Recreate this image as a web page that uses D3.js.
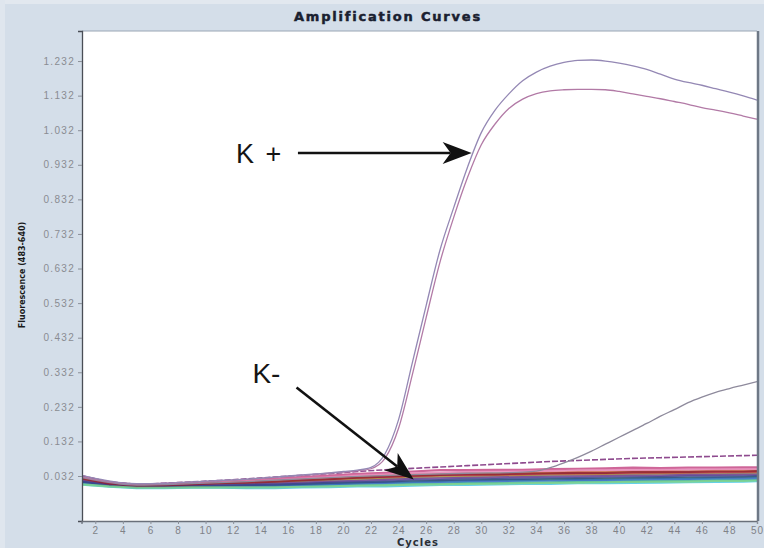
<!DOCTYPE html>
<html><head><meta charset="utf-8">
<script src="https://cdn.jsdelivr.net/npm/d3@7"></script>
<style>html,body{margin:0;padding:0;background:#d4dee9;} svg{display:block}</style>
</head><body><svg id="c" width="764" height="548"></svg>
<script>
const title = "Amplification Curves";
const xLabel = "Cycles";
const yLabel = "Fluorescence (483-640)";
const yTicks = [0.032,0.132,0.232,0.332,0.432,0.532,0.632,0.732,0.832,0.932,1.032,1.132,1.232];
const yTickLabels = ["0.032","0.132","0.232","0.332","0.432","0.532","0.632","0.732","0.832","0.932","1.032","1.132","1.232"];
const xTicks = [2,4,6,8,10,12,14,16,18,20,22,24,26,28,30,32,34,36,38,40,42,44,46,48,50];

const cyclesFull = [1,2,3,4,5,6,7,8,9,10,11,12,13,14,15,16,17,18,19,20,21,22,23,24,25,26,27,28,29,30,31,32,33,34,35,36,37,38,39,40,41,42,43,44,45,46,47,48,49,50];
const kPosA = [0.034,0.025,0.018,0.012,0.010,0.010,0.011,0.013,0.015,0.017,0.019,0.021,0.023,0.026,0.029,0.032,0.035,0.038,0.041,0.045,0.049,0.057,0.095,0.195,0.360,0.525,0.685,0.808,0.925,1.025,1.090,1.137,1.175,1.200,1.217,1.228,1.234,1.235,1.232,1.226,1.218,1.208,1.194,1.180,1.170,1.162,1.152,1.142,1.131,1.119];
const kPosB = [0.030,0.022,0.016,0.011,0.009,0.009,0.010,0.012,0.014,0.016,0.018,0.020,0.022,0.025,0.028,0.031,0.034,0.037,0.040,0.043,0.047,0.053,0.082,0.170,0.325,0.490,0.650,0.780,0.895,0.990,1.050,1.095,1.122,1.138,1.146,1.149,1.150,1.150,1.149,1.144,1.137,1.130,1.123,1.115,1.107,1.097,1.090,1.082,1.073,1.064];

const lateCycles = [1,5,9,13,17,21,25,29,33,34,35,36,37,38,39,40,41,42,43,44,45,46,47,48,49,50];
const lateValues = [0.028,0.006,0.010,0.016,0.024,0.031,0.036,0.040,0.043,0.046,0.056,0.070,0.086,0.104,0.124,0.144,0.164,0.184,0.205,0.224,0.244,0.260,0.274,0.285,0.295,0.305];

const baseCycles = [1,3,5,7,9,11,13,15,17,19,21,23,25,27,29,31,33,35,37,39,41,43,45,47,49,50];
const negA = [0.032,0.014,0.007,0.009,0.012,0.016,0.020,0.024,0.029,0.033,0.038,0.041,0.045,0.049,0.049,0.050,0.050,0.052,0.053,0.054,0.056,0.055,0.056,0.056,0.057,0.057];
const negB = [0.023,0.010,0.004,0.005,0.007,0.010,0.012,0.015,0.018,0.022,0.026,0.027,0.031,0.033,0.034,0.036,0.035,0.038,0.039,0.038,0.040,0.041,0.041,0.042,0.043,0.043];
const negC = [0.026,0.011,0.005,0.006,0.009,0.012,0.014,0.018,0.022,0.025,0.029,0.033,0.036,0.037,0.040,0.039,0.041,0.042,0.044,0.043,0.045,0.046,0.045,0.047,0.047,0.048];
const negD = [0.020,0.008,0.002,0.004,0.005,0.008,0.009,0.012,0.015,0.017,0.021,0.023,0.026,0.028,0.029,0.030,0.031,0.033,0.033,0.034,0.035,0.036,0.036,0.037,0.038,0.038];
const negE = [0.014,0.005,0.000,0.001,0.002,0.003,0.004,0.005,0.008,0.010,0.012,0.014,0.016,0.018,0.019,0.021,0.020,0.022,0.023,0.024,0.025,0.026,0.026,0.027,0.028,0.029];
const negF = [0.010,0.003,-0.001,-0.001,0.000,0.000,0.000,0.001,0.002,0.004,0.006,0.007,0.009,0.010,0.012,0.012,0.014,0.014,0.016,0.016,0.017,0.018,0.019,0.020,0.020,0.021];
const negG = [0.012,0.004,-0.001,0.000,0.001,0.002,0.003,0.004,0.006,0.008,0.010,0.012,0.014,0.015,0.017,0.017,0.019,0.019,0.021,0.021,0.022,0.023,0.024,0.025,0.025,0.026];
const negH = [0.007,0.001,-0.003,-0.003,-0.002,-0.002,-0.003,-0.003,-0.001,0.000,0.002,0.002,0.004,0.006,0.006,0.008,0.009,0.009,0.011,0.011,0.012,0.013,0.014,0.015,0.016,0.017];
const negI = [0.019,0.007,0.002,0.003,0.005,0.006,0.008,0.010,0.013,0.016,0.018,0.021,0.024,0.025,0.027,0.028,0.029,0.030,0.031,0.032,0.033,0.033,0.035,0.035,0.036,0.036];
const negJ = [0.029,0.013,0.006,0.008,0.011,0.014,0.017,0.021,0.025,0.029,0.034,0.037,0.040,0.042,0.044,0.045,0.046,0.047,0.048,0.049,0.050,0.050,0.051,0.051,0.052,0.052];
const negK = [0.016,0.006,0.001,0.002,0.003,0.004,0.006,0.007,0.009,0.012,0.014,0.016,0.019,0.020,0.022,0.023,0.024,0.025,0.026,0.027,0.028,0.029,0.030,0.030,0.031,0.032];
const negL = [0.025,0.010,0.004,0.005,0.008,0.011,0.013,0.016,0.020,0.023,0.027,0.030,0.033,0.035,0.037,0.037,0.039,0.040,0.041,0.041,0.043,0.043,0.044,0.045,0.045,0.046];
const negM = [0.008,0.002,-0.002,-0.002,-0.001,-0.001,-0.001,-0.001,0.001,0.002,0.004,0.005,0.007,0.008,0.009,0.010,0.011,0.012,0.013,0.014,0.015,0.016,0.016,0.018,0.018,0.019];
const negTop = [0.033,0.015,0.008,0.011,0.015,0.019,0.024,0.029,0.034,0.039,0.045,0.050,0.054,0.058,0.062,0.066,0.070,0.074,0.077,0.080,0.083,0.085,0.087,0.089,0.091,0.092];
const negSeries = [negE, negA, negB, negC, negD, negF, negG, negH, negI, negJ, negK, negL, negM];
const negColors = ["#3cb43c","#c2407e","#c83232","#e28a2e","#9c9a3c","#1ea0a0","#3264c4","#3cc4e4","#7040a4","#e27eb0","#34428a","#8a1c34","#86d486"];

// annotations in data units
const annPlus = {label:"K +", tx:12.2, ty:0.937, x0:16.7, y0:0.966, x1:29.3, y1:0.966};
const annMinus = {label:"K-", tx:13.4, ty:0.301, x0:16.6, y0:0.288, x1:25.1, y1:0.022};

const svg = d3.select("#c");
const W = 764, H = 548;
const m = {l:82, r:757, t:31, b:521};

svg.append("rect").attr("width",W).attr("height",H).attr("fill","#d4dee9");
svg.append("rect").attr("x",0).attr("y",0).attr("width",W).attr("height",4).attr("fill","#e2e8ef");
svg.append("rect").attr("x",0).attr("y",0).attr("width",5).attr("height",H).attr("fill","#dfe6ee");

const x = d3.scaleLinear().domain([1,50]).range([81.5,757]);
const y = d3.scaleLinear().domain([-0.0981,1.3189]).range([521,31]);

svg.append("rect").attr("x",m.l).attr("y",m.t).attr("width",m.r-m.l).attr("height",m.b-m.t).attr("fill","#ffffff");

svg.append("defs").append("clipPath").attr("id","clip")
  .append("rect").attr("x",m.l).attr("y",m.t).attr("width",m.r-m.l).attr("height",m.b-m.t);

const plot = svg.append("g").attr("clip-path","url(#clip)");
const line = d3.line().x(d=>x(d[0])).y(d=>y(d[1]));
const smooth = d3.line().x(d=>x(d[0])).y(d=>y(d[1])).curve(d3.curveMonotoneX);

negSeries.forEach((s,i)=>{
  plot.append("path").attr("d", line(baseCycles.map((c,j)=>[c,s[j]])))
    .attr("fill","none").attr("stroke",negColors[i]).attr("stroke-width",2.2).attr("stroke-opacity",0.8);
});
plot.append("path").attr("d", line(baseCycles.map((c,j)=>[c,negTop[j]])))
  .attr("fill","none").attr("stroke","#8e4a8e").attr("stroke-width",1.6).attr("stroke-dasharray","6,2");

plot.append("path").attr("d", smooth(lateCycles.map((c,j)=>[c,lateValues[j]])))
  .attr("fill","none").attr("stroke","#8e8a9c").attr("stroke-width",1.3);
plot.append("path").attr("d", smooth(cyclesFull.map((c,j)=>[c,kPosB[j]])))
  .attr("fill","none").attr("stroke","#b27aa6").attr("stroke-width",1.3);
plot.append("path").attr("d", smooth(cyclesFull.map((c,j)=>[c,kPosA[j]])))
  .attr("fill","none").attr("stroke","#9488b4").attr("stroke-width",1.3);

svg.append("line").attr("x1",m.l).attr("x2",m.r).attr("y1",m.t).attr("y2",m.t).attr("stroke","#9aa6b4").attr("stroke-width",1);
svg.append("line").attr("x1",m.r+1).attr("x2",m.r+1).attr("y1",m.t).attr("y2",m.b).attr("stroke","#6e7886").attr("stroke-width",2.5);

const yAxis = d3.axisLeft(y).tickValues(yTicks).tickFormat((d,i)=>yTickLabels[i]).tickSize(4).tickPadding(3);
const gy = svg.append("g").attr("transform",`translate(${m.l},0)`).call(yAxis);
gy.select(".domain").attr("stroke","#4a4e56").attr("stroke-width",1.3);
gy.selectAll(".tick line").attr("stroke","#8a8f98");
gy.selectAll(".tick text").attr("fill","#8a8c92").style("font-family","Liberation Sans, Arial, sans-serif")
  .style("font-size","10px").style("letter-spacing","1.3px");

const xAxis = d3.axisBottom(x).tickValues(xTicks).tickSize(3).tickPadding(3);
const gx = svg.append("g").attr("transform",`translate(0,${m.b})`).call(xAxis);
gx.select(".domain").attr("stroke","#6a707a").attr("stroke-width",1.3);
gx.selectAll(".tick line").attr("stroke","#8a8f98");
gx.selectAll(".tick text").attr("fill","#808288").style("font-family","Liberation Sans, Arial, sans-serif")
  .style("font-size","10px").style("letter-spacing","1px");

svg.append("text").attr("x",388).attr("y",21).attr("text-anchor","middle")
  .style("font-family","DejaVu Sans, sans-serif").style("font-weight","bold").style("font-size","13px")
  .style("letter-spacing","1.8px").attr("fill","#1a2030").attr("stroke","#1a2030").attr("stroke-width",0.5).text(title);
svg.append("text").attr("x",418).attr("y",546).attr("text-anchor","middle")
  .style("font-family","DejaVu Sans, sans-serif").style("font-weight","bold").style("font-size","10px")
  .style("letter-spacing","1px").attr("fill","#2a2e36").text(xLabel);
svg.append("text").attr("transform","translate(25,275) rotate(-90)").attr("text-anchor","middle")
  .style("font-family","DejaVu Sans, sans-serif").style("font-weight","bold").style("font-size","8px")
  .attr("fill","#1a1a1a").text(yLabel);

function arrow(a){
  const X0=x(a.x0), Y0=y(a.y0), X1=x(a.x1), Y1=y(a.y1);
  const ang = Math.atan2(Y1-Y0, X1-X0);
  const L=29, Wd=11, notch=8;
  const cos=Math.cos(ang), sin=Math.sin(ang);
  const bx = X1 - L*cos, by = Y1 - L*sin;
  const nx = X1 - (L-notch)*cos, ny = Y1 - (L-notch)*sin;
  svg.append("line").attr("x1",X0).attr("y1",Y0).attr("x2",nx).attr("y2",ny)
    .attr("stroke","#111").attr("stroke-width",2.6);
  const left = [bx + Wd*sin, by - Wd*cos];
  const right = [bx - Wd*sin, by + Wd*cos];
  svg.append("path").attr("d",`M${X1},${Y1}L${left[0]},${left[1]}L${nx},${ny}L${right[0]},${right[1]}Z`)
    .attr("fill","#111");
}
arrow(annPlus); arrow(annMinus);
svg.append("text").attr("x",x(annPlus.tx)).attr("y",y(annPlus.ty))
  .style("font-family","Liberation Sans, Arial, sans-serif").style("font-size","27px").attr("fill","#151515")
  .style("word-spacing","4px").text(annPlus.label);
svg.append("text").attr("x",x(annMinus.tx)).attr("y",y(annMinus.ty))
  .style("font-family","Liberation Sans, Arial, sans-serif").style("font-size","28px").attr("fill","#151515")
  .text(annMinus.label);
</script></body></html>
